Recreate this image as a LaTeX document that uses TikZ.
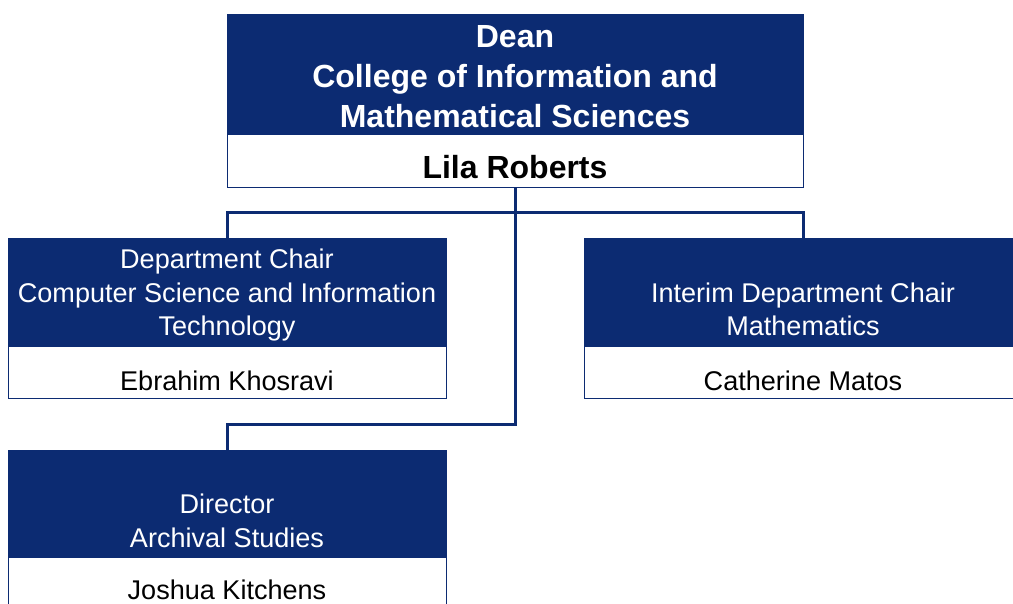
\documentclass[tikz,border=0pt]{standalone}
\usepackage{fontspec}
\setmainfont{Liberation Sans}
\definecolor{navy}{RGB}{12,43,114}
\begin{document}
\begin{tikzpicture}[x=0.75pt,y=-0.75pt,
  bluebox/.style={rectangle,fill=navy,draw=navy,line width=0.75pt,inner sep=0pt,minimum width=328.5pt},
  whitebox/.style={rectangle,fill=white,draw=navy,line width=0.75pt,inner sep=0pt,minimum width=328.5pt},
  titletxt/.style={text=white,align=center,inner sep=0pt,font=\fontsize{20.3pt}{25.2pt}\selectfont},
  nametxt/.style={text=black,align=center,inner sep=0pt,font=\fontsize{20.3pt}{25.2pt}\selectfont},
  conn/.style={draw=navy,line width=2.25pt}]
\useasboundingbox (0,0) rectangle (1013,603);
\clip (0,0) rectangle (1013,603);
% Dean
\node[bluebox,minimum width=432pt,minimum height=90pt] (deanT) at (515,74) {};
\node[whitebox,minimum width=432pt,minimum height=39.75pt] (deanN) at (515,160.5) {};
\node[titletxt,font=\fontsize{24pt}{30pt}\selectfont\bfseries] (deanTx) at (515,76.5) {Dean\\College of Information and\\Mathematical Sciences};
\node[nametxt,font=\fontsize{24pt}{30pt}\selectfont\bfseries] (deanNx) at (515,167) {Lila Roberts};
% CS
\node[bluebox,minimum height=81pt] (csT) at (227,292) {};
\node[whitebox,minimum height=39pt] (csN) at (227,372) {};
\node[titletxt] (csTx) at (227,295) {Department Chair\\Computer Science and Information\\Technology};
\node[nametxt] (csNx) at (227,381) {Ebrahim Khosravi};
% Math
\node[bluebox,minimum height=81pt] (mathT) at (803,292) {};
\node[whitebox,minimum height=39pt] (mathN) at (803,372) {};
\node[titletxt] (mathTx) at (803,309.5) {Interim Department Chair\\Mathematics};
\node[nametxt] (mathNx) at (803,381) {Catherine Matos};
% Archival
\node[bluebox,minimum height=80.25pt] (arT) at (227,503.5) {};
\node[whitebox,minimum height=39.75pt] (arN) at (227,583.5) {};
\node[titletxt] (arTx) at (227,521) {Director\\Archival Studies};
\node[nametxt] (arNx) at (227,590) {Joshua Kitchens};
% connectors
\coordinate (j1) at (515,212);
\coordinate (j2) at (515,424);
\draw[conn] (csT.north) |- (j1) -| (mathT.north);
\draw[conn] (deanN.south) -- (j2) -| (arT.north);
\end{tikzpicture}
\end{document}
